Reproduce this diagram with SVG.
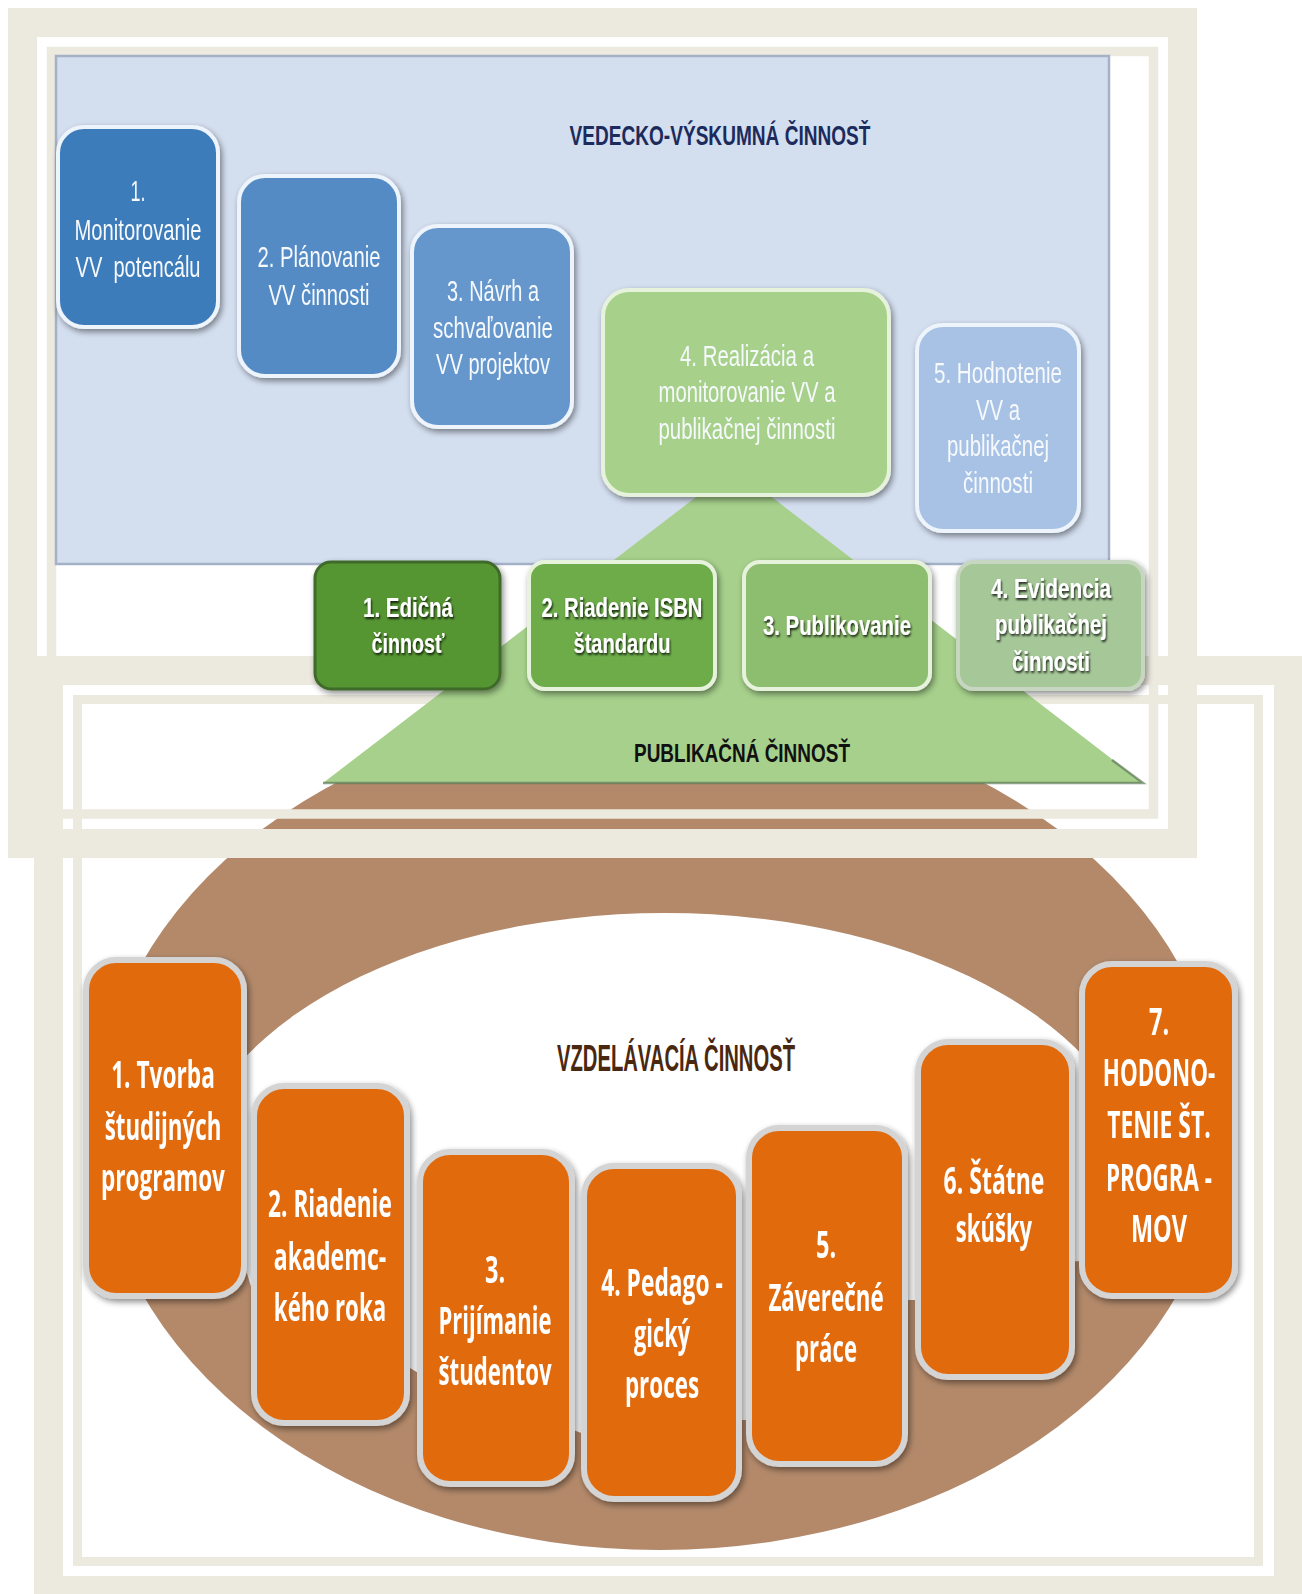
<svg xmlns="http://www.w3.org/2000/svg" width="1302" height="1594" viewBox="0 0 1302 1594">
  <defs>
    <style>
      .frame{fill:none;stroke:#ece9df}
      .t{font-family:"Liberation Sans",Arial,sans-serif;text-anchor:middle}
      .vv{font-size:30px;fill:#f6f9fc}
      .pub{font-size:28px;font-weight:bold;fill:#ffffff}
      .edu{font-family:"Open Sans","Liberation Sans",sans-serif;font-size:37px;font-weight:bold;fill:#ffffff;text-anchor:middle}
      .head{font-weight:bold}
      .blue{stroke:#eef4fb;stroke-width:4}
      .green{stroke:#e6f2dc;stroke-width:4}
      .orange{fill:#e16a0f;stroke:#d4d4d4;stroke-width:6}
    </style>
    <filter id="shadow" x="-15%" y="-15%" width="135%" height="135%">
      <feGaussianBlur in="SourceAlpha" stdDeviation="3"/>
      <feOffset dx="2" dy="3"/>
      <feComponentTransfer><feFuncA type="linear" slope="0.45"/></feComponentTransfer>
      <feMerge><feMergeNode/><feMergeNode in="SourceGraphic"/></feMerge>
    </filter>
    <filter id="txtshadow" x="-10%" y="-20%" width="120%" height="150%">
      <feGaussianBlur in="SourceAlpha" stdDeviation="1.2"/>
      <feOffset dx="1" dy="1.5"/>
      <feComponentTransfer><feFuncA type="linear" slope="0.8"/></feComponentTransfer>
      <feMerge><feMergeNode/><feMergeNode in="SourceGraphic"/></feMerge>
    </filter>
  </defs>

  <rect width="1302" height="1594" fill="#ffffff"/>

  <!-- lower picture: double frame -->
  <g id="frame-lower">
    <rect class="frame" x="48.5" y="670.5" width="1240" height="920" stroke-width="29"/>
    <rect class="frame" x="77.5" y="699.5" width="1181" height="862" stroke-width="9"/>
  </g>

  <!-- brown ring behind the education steps; the inner opening tucks under the step boxes -->
  <g id="ring">
    <ellipse cx="660" cy="1128" rx="563" ry="422" fill="#b3896a"/>
    <path d="M185,1193 A480,280 0 0 1 1145,1193 L1150,1250 L1120,1260 L1050,1262 L1000,1300 L890,1300 L820,1420 L730,1420 L600,1440 L560,1425 L430,1380 L400,1362 L270,1350 L240,1250 L200,1240 Z" fill="#ffffff"/>
  </g>

  <g id="edu-title">
    <text class="t head" x="676" y="1071" font-size="36" fill="#4a2810" textLength="238" lengthAdjust="spacingAndGlyphs">VZDELÁVACÍA ČINNOSŤ</text>
  </g>

  <!-- education steps -->
  <g id="edu-1" filter="url(#shadow)">
    <rect class="orange" x="86" y="960" width="158" height="336" rx="30"/>
    <g transform="translate(163,0) scale(0.72,1)">
      <text class="edu" x="0" y="1088" textLength="144" lengthAdjust="spacingAndGlyphs">1. Tvorba</text>
      <text class="edu" x="0" y="1140" textLength="162" lengthAdjust="spacingAndGlyphs">študijných</text>
      <text class="edu" x="0" y="1191" textLength="172" lengthAdjust="spacingAndGlyphs">programov</text>
    </g>
  </g>
  <g id="edu-2" filter="url(#shadow)">
    <rect class="orange" x="254" y="1086" width="153" height="337" rx="30"/>
    <g transform="translate(330,0) scale(0.72,1)">
      <text class="edu" x="0" y="1217" textLength="172" lengthAdjust="spacingAndGlyphs">2. Riadenie</text>
      <text class="edu" x="0" y="1270" textLength="156" lengthAdjust="spacingAndGlyphs">akademc-</text>
      <text class="edu" x="0" y="1321" textLength="156" lengthAdjust="spacingAndGlyphs">kého roka</text>
    </g>
  </g>
  <g id="edu-3" filter="url(#shadow)">
    <rect class="orange" x="420" y="1152" width="152" height="332" rx="30"/>
    <g transform="translate(495,0) scale(0.72,1)">
      <text class="edu" x="0" y="1283" textLength="28" lengthAdjust="spacingAndGlyphs">3.</text>
      <text class="edu" x="0" y="1334" textLength="157" lengthAdjust="spacingAndGlyphs">Prijímanie</text>
      <text class="edu" x="0" y="1385" textLength="157" lengthAdjust="spacingAndGlyphs">študentov</text>
    </g>
  </g>
  <g id="edu-4" filter="url(#shadow)">
    <rect class="orange" x="584" y="1166" width="155" height="333" rx="30"/>
    <g transform="translate(662,0) scale(0.72,1)">
      <text class="edu" x="0" y="1296" textLength="169" lengthAdjust="spacingAndGlyphs">4. Pedago -</text>
      <text class="edu" x="0" y="1347" textLength="78" lengthAdjust="spacingAndGlyphs">gický</text>
      <text class="edu" x="0" y="1398" textLength="103" lengthAdjust="spacingAndGlyphs">proces</text>
    </g>
  </g>
  <g id="edu-5" filter="url(#shadow)">
    <rect class="orange" x="749" y="1128" width="156" height="336" rx="30"/>
    <g transform="translate(826,0) scale(0.72,1)">
      <text class="edu" x="0" y="1258" textLength="28" lengthAdjust="spacingAndGlyphs">5.</text>
      <text class="edu" x="0" y="1311" textLength="160" lengthAdjust="spacingAndGlyphs">Záverečné</text>
      <text class="edu" x="0" y="1362" textLength="86" lengthAdjust="spacingAndGlyphs">práce</text>
    </g>
  </g>
  <g id="edu-6" filter="url(#shadow)">
    <rect class="orange" x="918" y="1042" width="154" height="335" rx="30"/>
    <g transform="translate(994,0) scale(0.72,1)">
      <text class="edu" x="0" y="1194" textLength="140" lengthAdjust="spacingAndGlyphs">6. Štátne</text>
      <text class="edu" x="0" y="1242" textLength="106" lengthAdjust="spacingAndGlyphs">skúšky</text>
    </g>
  </g>
  <g id="edu-7" filter="url(#shadow)">
    <rect class="orange" x="1082" y="964" width="153" height="332" rx="30"/>
    <g transform="translate(1159,0) scale(0.72,1)">
      <text class="edu" x="0" y="1035" textLength="28" lengthAdjust="spacingAndGlyphs">7.</text>
      <text class="edu" x="0" y="1086" textLength="156" lengthAdjust="spacingAndGlyphs">HODONO-</text>
      <text class="edu" x="0" y="1138" textLength="144" lengthAdjust="spacingAndGlyphs">TENIE ŠT.</text>
      <text class="edu" x="0" y="1191" textLength="147" lengthAdjust="spacingAndGlyphs">PROGRA -</text>
      <text class="edu" x="0" y="1242" textLength="78" lengthAdjust="spacingAndGlyphs">MOV</text>
    </g>
  </g>

  <!-- upper picture: double frame -->
  <g id="frame-upper">
    <rect class="frame" x="22.5" y="22.5" width="1160" height="821" stroke-width="29"/>
    <rect class="frame" x="51.5" y="51.5" width="1102" height="762.5" stroke-width="9.5"/>
  </g>

  <!-- research panel -->
  <g id="research-panel">
    <rect x="56" y="56" width="1053" height="508" fill="#d3deef" stroke="#a4b1c6" stroke-width="2.5"/>
    <text class="t head" x="720" y="145" font-size="27" fill="#1c2b5c" textLength="301" lengthAdjust="spacingAndGlyphs">VEDECKO-VÝSKUMNÁ ČINNOSŤ</text>
  </g>

  <!-- publication pyramid -->
  <g id="pyramid">
    <polygon points="734,468 1143,783 323,783" fill="#a6d08b"/>
    <polyline points="323,783 1143,783 1112,760" fill="none" stroke="#5f7a58" stroke-width="2.5" opacity="0.7"/>
    <text class="t head" x="742" y="762" font-size="26" fill="#111111" textLength="216" lengthAdjust="spacingAndGlyphs">PUBLIKAČNÁ ČINNOSŤ</text>
  </g>

  <!-- research steps -->
  <g id="vv-1" filter="url(#shadow)">
    <rect class="blue" x="58" y="127" width="160" height="200" rx="26" fill="#3e7bba"/>
    <text class="t vv" x="138" y="201" textLength="15" lengthAdjust="spacingAndGlyphs">1.</text>
    <text class="t vv" x="138" y="240" textLength="127" lengthAdjust="spacingAndGlyphs">Monitorovanie</text>
    <text class="t vv" x="138" y="277" textLength="125" lengthAdjust="spacingAndGlyphs" xml:space="preserve">VV  potencálu</text>
  </g>
  <g id="vv-2" filter="url(#shadow)">
    <rect class="blue" x="239" y="176" width="160" height="200" rx="26" fill="#548bc5"/>
    <text class="t vv" x="319" y="267" textLength="123" lengthAdjust="spacingAndGlyphs">2. Plánovanie</text>
    <text class="t vv" x="319" y="305" textLength="101" lengthAdjust="spacingAndGlyphs">VV činnosti</text>
  </g>
  <g id="vv-3" filter="url(#shadow)">
    <rect class="blue" x="412" y="226" width="160" height="201" rx="26" fill="#6597cd"/>
    <text class="t vv" x="493" y="301" textLength="92" lengthAdjust="spacingAndGlyphs">3. Návrh a</text>
    <text class="t vv" x="493" y="338" textLength="120" lengthAdjust="spacingAndGlyphs">schvaľovanie</text>
    <text class="t vv" x="493" y="374" textLength="114" lengthAdjust="spacingAndGlyphs">VV projektov</text>
  </g>
  <g id="vv-4" filter="url(#shadow)">
    <rect class="green" x="603" y="290" width="286" height="205" rx="26" fill="#a7d18b"/>
    <text class="t vv" x="747" y="366" fill="#eef5e8" textLength="134" lengthAdjust="spacingAndGlyphs">4. Realizácia a</text>
    <text class="t vv" x="747" y="402" fill="#eef5e8" textLength="177" lengthAdjust="spacingAndGlyphs">monitorovanie VV a</text>
    <text class="t vv" x="747" y="439" fill="#eef5e8" textLength="177" lengthAdjust="spacingAndGlyphs">publikačnej činnosti</text>
  </g>
  <g id="vv-5" filter="url(#shadow)">
    <rect class="blue" x="917" y="325" width="162" height="206" rx="26" fill="#a8c2e5"/>
    <text class="t vv" x="998" y="383" textLength="128" lengthAdjust="spacingAndGlyphs">5. Hodnotenie</text>
    <text class="t vv" x="998" y="420" textLength="44" lengthAdjust="spacingAndGlyphs">VV a</text>
    <text class="t vv" x="998" y="456" textLength="102" lengthAdjust="spacingAndGlyphs">publikačnej</text>
    <text class="t vv" x="998" y="493" textLength="70" lengthAdjust="spacingAndGlyphs">činnosti</text>
  </g>

  <!-- publication steps -->
  <g id="pub-1" filter="url(#shadow)">
    <rect x="315" y="562" width="185" height="127" rx="16" fill="#569632" stroke="#3f6a2b" stroke-width="3"/>
    <text class="t pub" x="408" y="617" filter="url(#txtshadow)" textLength="90" lengthAdjust="spacingAndGlyphs">1. Edičná</text>
    <text class="t pub" x="408" y="653" filter="url(#txtshadow)" textLength="73" lengthAdjust="spacingAndGlyphs">činnosť</text>
  </g>
  <g id="pub-2" filter="url(#shadow)">
    <rect class="green" x="529" y="562" width="186" height="127" rx="16" fill="#6dac4a"/>
    <text class="t pub" x="622" y="617" filter="url(#txtshadow)" textLength="161" lengthAdjust="spacingAndGlyphs">2. Riadenie ISBN</text>
    <text class="t pub" x="622" y="653" filter="url(#txtshadow)" textLength="97" lengthAdjust="spacingAndGlyphs">štandardu</text>
  </g>
  <g id="pub-3" filter="url(#shadow)">
    <rect class="green" x="744" y="562" width="186" height="127" rx="16" fill="#8dbe6f"/>
    <text class="t pub" x="837" y="635" filter="url(#txtshadow)" textLength="148" lengthAdjust="spacingAndGlyphs">3. Publikovanie</text>
  </g>
  <g id="pub-4" filter="url(#shadow)">
    <rect x="958" y="562" width="185" height="127" rx="16" fill="#a6c898" stroke="#c7d6c0" stroke-width="4"/>
    <text class="t pub" x="1051" y="598" filter="url(#txtshadow)" textLength="120" lengthAdjust="spacingAndGlyphs">4. Evidencia</text>
    <text class="t pub" x="1051" y="634" filter="url(#txtshadow)" textLength="112" lengthAdjust="spacingAndGlyphs">publikačnej</text>
    <text class="t pub" x="1051" y="671" filter="url(#txtshadow)" textLength="78" lengthAdjust="spacingAndGlyphs">činnosti</text>
  </g>
</svg>
